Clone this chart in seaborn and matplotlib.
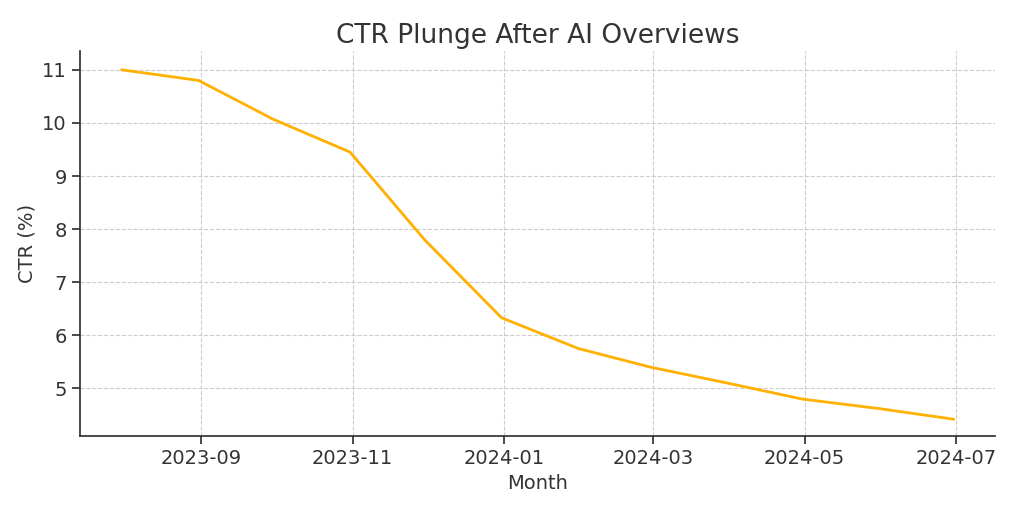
import matplotlib
matplotlib.use("Agg")
import matplotlib.pyplot as plt
import seaborn as sns
import pandas as pd

months = pd.date_range("2023-07-31", periods=12, freq="ME")
ctr = [11.0, 10.8, 10.07, 9.45, 7.8, 6.33, 5.75, 5.4, 5.1, 4.8, 4.62, 4.42]

df = pd.DataFrame({"Month": months, "CTR (%)": ctr})

sns.set_theme(style="white")
fig, ax = plt.subplots(figsize=(10.24, 5.12), dpi=100)
sns.lineplot(data=df, x="Month", y="CTR (%)", color="#FFB000", linewidth=2, ax=ax)
ax.grid(True, linestyle="--", color="#cccccc", linewidth=0.8)
for s in ["top", "right"]:
    ax.spines[s].set_visible(False)
for s in ["left", "bottom"]:
    ax.spines[s].set_color("#333333")
import matplotlib.dates as mdates
ax.xaxis.set_major_locator(mdates.MonthLocator(bymonth=[1, 3, 5, 7, 9, 11]))
ax.xaxis.set_major_formatter(mdates.DateFormatter("%Y-%m"))
ax.set_title("CTR Plunge After AI Overviews", fontsize=19, color="#333333")
ax.tick_params(labelsize=14, colors="#333333", left=True, bottom=True)
ax.set_xlabel("Month", fontsize=14, color="#333333")
ax.set_ylabel("CTR (%)", fontsize=14, color="#333333")
ax.set_ylim(4.1, 11.35)
fig.subplots_adjust(left=0.078, right=0.972, top=0.9, bottom=0.148)
fig.savefig("out.png")
